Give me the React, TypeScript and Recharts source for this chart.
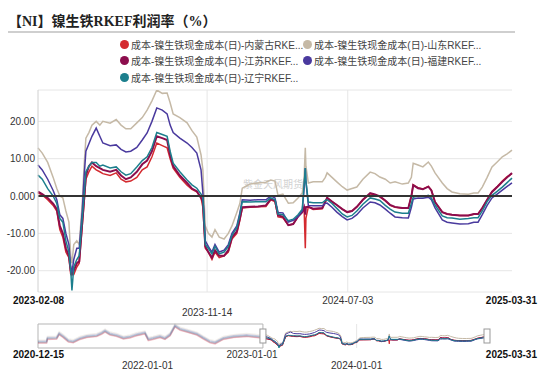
import { CartesianGrid, Line, LineChart, ReferenceArea, ReferenceLine, XAxis, YAxis } from "recharts";

// main window, 2023-02-08 .. 2025-03-31
const dates = [
  "2023-02-08", "2023-02-15", "2023-02-24", "2023-03-05", "2023-03-11", "2023-03-16", "2023-03-21", "2023-03-26", "2023-03-31", "2023-04-03",
  "2023-04-05", "2023-04-08", "2023-04-13", "2023-04-17", "2023-04-22", "2023-04-25", "2023-04-28", "2023-05-03", "2023-05-08", "2023-05-15",
  "2023-05-21", "2023-05-26", "2023-06-07", "2023-06-17", "2023-06-25", "2023-07-03", "2023-07-11", "2023-07-21", "2023-07-30", "2023-08-07",
  "2023-08-15", "2023-08-23", "2023-09-01", "2023-09-09", "2023-09-14", "2023-09-19", "2023-09-30", "2023-10-12", "2023-10-20", "2023-10-28",
  "2023-11-04", "2023-11-07", "2023-11-11", "2023-11-16", "2023-11-22", "2023-11-27", "2023-12-04", "2023-12-12", "2023-12-19", "2023-12-25",
  "2024-01-02", "2024-01-07", "2024-01-11", "2024-01-24", "2024-02-06", "2024-02-19", "2024-02-27", "2024-03-05", "2024-03-10", "2024-03-18",
  "2024-03-27", "2024-04-04", "2024-04-12", "2024-04-19", "2024-04-22", "2024-04-24", "2024-04-25", "2024-04-29", "2024-05-07", "2024-05-22",
  "2024-05-27", "2024-05-30", "2024-06-07", "2024-06-15", "2024-06-24", "2024-07-02", "2024-07-10", "2024-07-18", "2024-07-28", "2024-08-09",
  "2024-08-17", "2024-08-25", "2024-09-03", "2024-09-11", "2024-09-19", "2024-10-01", "2024-10-11", "2024-10-16", "2024-10-19", "2024-10-27",
  "2024-11-04", "2024-11-13", "2024-11-18", "2024-11-24", "2024-12-06", "2024-12-14", "2024-12-22", "2025-01-04", "2025-01-18", "2025-01-27",
  "2025-02-03", "2025-02-10", "2025-02-18", "2025-02-26", "2025-03-07", "2025-03-15", "2025-03-23", "2025-03-31",
];

const neimenggu = [
  0.8, 0.3, -1, -2.5, -4, -9, -11, -15, -16.5, -21,
  -21, -21, -19, -18, -8, -2, 4.5, 6.5, 8, 7,
  6.5, 6, 5.5, 6.2, 4.5, 3.8, 4, 5, 7, 7.8,
  10.5, 14.2, 13.5, 12.9, 10, 7.5, 5, 2.9, 1.8, 1.1,
  -0.5, -3, -14, -15, -17, -15, -16.5, -16, -15, -11.5,
  -10, -6.5, -3.2, -3, -2.9, -2.8, -1, -1.5, -5.6, -5.8,
  -7.8, -7.5, -5.5, -4.3, -3, -14, -6, -2.9, -3.6, -3.4,
  -1.6, -0.5, -1.5, -2.4, -3.5, -4.3, -4, -2.9, -1, 0.6,
  0.3, -0.2, -1.3, -2.5, -3, -3.3, -3.3, 0, 3, 2.2,
  1.9, 2.6, 1.6, -1.6, -4.3, -4.8, -5, -5.2, -5.2, -4.9,
  -4.8, -3.2, -1, 1.2, 2.6, 4, 5.2, 6,
];

const shandong = [
  12.9, 11.5, 9, 5, 2, 0, -0.5, -4, -7, -16,
  -18, -13, -12, -13, -2, 8, 15.5, 17, 19, 20,
  19, 20, 19.5, 20.5, 19, 18, 18, 19.6, 21, 23,
  25.5, 28.4, 27.5, 27.6, 25, 22, 21, 19.6, 17.5, 15.8,
  11, 7, -8, -10, -11, -9, -11, -11.5, -10, -8,
  -4.4, -2, 2.1, 3.2, 3.5, 3.7, 4.3, 4, 0.2, 0.5,
  -1.9, -1.8, -0.5, 0.8, 5, 12.9, 8, 3.5, 3.8, 3.8,
  5, 6.2, 5, 3.8, 2.5, 1.6, 2, 2.4, 4.5, 6.4,
  6, 5.1, 4.5, 3.5, 3.8, 3.2, 3.5, 5, 8.8, 8.3,
  7.8, 9.1, 8, 6.2, 3.5, 2, 1.1, 0.6, 0.5, 0.8,
  0.8, 2.4, 5, 7.8, 9.2, 10.5, 11.3, 12.3,
];

const jiangsu = [
  1.2, 0.5, -0.5, -2, -3.5, -8, -10, -14, -16, -20,
  -21, -20, -18, -17.5, -7, -1, 5.5, 8, 9, 8,
  7.5, 7, 6.5, 7, 5.5, 4.5, 5, 6.5, 8.5, 9.5,
  12, 16, 15.5, 15, 11, 8, 5.5, 3.5, 2, 1.3,
  -0.5, -1.5, -13.5, -15, -16.5, -14.5, -16, -16, -14.5, -11,
  -9.5, -6, -3, -2.9, -2.8, -2.5, -0.8, -1.2, -5.2, -5.5,
  -7.8, -7.5, -5.5, -4.3, -3, -5, -3, -2.9, -3.4, -3.2,
  -1.5, -0.5, -1.5, -2.4, -3.5, -4.3, -4, -2.9, -1, 0.8,
  0.4, -0.1, -1.2, -2.4, -2.9, -3.2, -3.2, 0, 2.9, 2.1,
  1.8, 2.5, 1.5, -1.6, -4.3, -4.8, -5, -5.2, -5.2, -4.8,
  -4.8, -3.2, -1, 1.1, 2.5, 3.8, 5, 6.2,
];

const fujian = [
  8.3, 7, 4.5, 1.5, -1, -5, -6, -10, -13, -19,
  -20.5, -17, -14, -14, -4, 5, 12, 14, 16, 18.2,
  16, 14.2, 13.5, 13.7, 12.5, 11.8, 12, 13, 15, 16.9,
  20, 23.6, 23, 22, 19, 17, 15.5, 14.2, 13, 11.5,
  7, 0.8, -12, -13.5, -15, -13, -15, -14.5, -13, -10,
  -8, -4.5, -1, -1.1, -1, -1, 0, -0.5, -4.4, -4.5,
  -7, -6.5, -5.5, -4, 2, 7.5, 4, -2.5, -2.6, -2.6,
  -2, -1.9, -3, -4.3, -5.5, -6.4, -6, -5, -3.2, -1.6,
  -1.8, -2.4, -3.5, -4.6, -5.6, -5.8, -5.9, -3, -0.8, -0.5,
  -0.6, -0.3, -1, -3.2, -6.4, -7, -7.2, -7.5, -7.4, -7,
  -7, -5, -2.5, -0.5, 0.6, 1.6, 2.6, 3.5,
];

const liaoning = [
  5.6, 4.5, 2, 0, -2, -6, -7, -12, -15, -20,
  -25.3, -19, -17, -16, -6, 0, 6.5, 8, 9, 9,
  8, 8.3, 7.5, 7.8, 6.5, 5.6, 6, 7.8, 9.5, 10.5,
  13, 17, 16.5, 16, 12, 8.8, 6.5, 4.3, 3, 2.1,
  0.5, -0.3, -13, -14, -15.5, -13.5, -15.5, -15, -13.5, -10.5,
  -8.5, -5, -1.5, -1.6, -1.5, -1.5, -0.5, -1, -4.8, -5,
  -6.6, -6.2, -5, -3.5, 3, 7.5, 4, -1.6, -1.8, -1.8,
  -1.2, -1, -2, -3.3, -4.8, -5.6, -5.2, -4, -2.2, -0.5,
  -0.8, -1.2, -2.5, -3.5, -4.3, -4.6, -4.6, -2, -0.3, 0,
  -0.2, 0.2, -0.5, -2.4, -5.3, -5.8, -5.9, -6.2, -6, -5.8,
  -5.8, -4, -1.5, 0.2, 1.3, 2.4, 3.6, 4.8,
];

// history only shown (faded) in the navigator
const histDates = [
  "2020-12-15", "2021-01-14", "2021-01-17", "2021-02-18", "2021-02-27", "2021-03-13", "2021-03-31", "2021-04-17", "2021-05-11", "2021-06-03",
  "2021-07-08", "2021-07-25", "2021-08-06", "2021-08-23", "2021-09-16", "2021-10-09", "2021-11-01", "2021-11-24", "2021-12-23", "2022-01-04",
  "2022-01-21", "2022-02-14", "2022-03-03", "2022-03-21", "2022-04-07", "2022-04-25", "2022-05-18", "2022-06-22", "2022-07-15", "2022-08-07",
  "2022-08-25", "2022-09-23", "2022-10-28", "2022-12-13", "2023-01-29",
];
const histNeimenggu = [-12, -12, -2, -1, 11, 3, -9, -11, -2, 3, 6, 12, 18, 10, 6, -1, 2, 8, 13, -5, -2, 3, -2, 8, 32, 23, 18, 10, -1, -11, -14, -2, 3, 6, 2];
const histShandong = [-4, -4, 6, 7, 19, 11, -1, -3, 6, 11, 14, 20, 26, 18, 14, 7, 10, 16, 21, 3, 6, 11, 6, 16, 40, 31, 26, 18, 7, -3, -6, 6, 11, 14, 10];
const histJiangsu = [-11, -11, -1, 0, 12, 4, -8, -10, -1, 4, 7, 13, 19, 11, 7, 0, 3, 9, 14, -4, -1, 4, -1, 9, 33, 24, 19, 11, 0, -10, -13, -1, 4, 7, 3];
const histFujian = [-7, -7, 3, 4, 16, 8, -4, -6, 3, 8, 11, 17, 23, 15, 11, 4, 7, 13, 18, 0, 3, 8, 3, 13, 37, 28, 23, 15, 4, -6, -9, 3, 8, 11, 7];
const histLiaoning = [-9, -9, 1, 2, 14, 6, -6, -8, 1, 6, 9, 15, 21, 13, 9, 2, 5, 11, 16, -2, 1, 6, 1, 11, 35, 26, 21, 13, 2, -8, -11, 1, 6, 9, 5];

const mainTickDates = ["2023-02-08", "2023-11-14", "2024-07-03", "2025-03-31"];
const navTickDates = ["2020-12-15", "2022-01-01", "2023-01-01", "2024-01-01", "2025-03-31"];
const yTicks = [-20, -10, 0, 10, 20];

const SERIES = [
  { key: "nmg", name: "成本-镍生铁现金成本(日)-内蒙古RKE...", color: "#d42a2f", width: 1.5, values: neimenggu, hist: histNeimenggu },
  { key: "sd", name: "成本-镍生铁现金成本(日)-山东RKEF...", color: "#c5b9a6", width: 1.5, values: shandong, hist: histShandong },
  { key: "js", name: "成本-镍生铁现金成本(日)-江苏RKEF...", color: "#8c0d4d", width: 2, values: jiangsu, hist: histJiangsu },
  { key: "fj", name: "成本-镍生铁现金成本(日)-福建RKEF...", color: "#4a3a9e", width: 1.5, values: fujian, hist: histFujian },
  { key: "ln", name: "成本-镍生铁现金成本(日)-辽宁RKEF...", color: "#1c7f8d", width: 1.5, values: liaoning, hist: histLiaoning },
];

const t = (d: string) => Date.parse(d);
const mainTicks = mainTickDates.map(t);
const navTicks = navTickDates.map(t);
const tStart = t(dates[0]);
const tEnd = t(dates[dates.length - 1]);

const mainRows = dates.map((d, i) => {
  const row: Record<string, number> = { t: t(d) };
  SERIES.forEach((s) => (row[s.key] = s.values[i]));
  return row;
});

const navRows = [
  ...histDates.map((d, i) => {
    const row: Record<string, number> = { t: t(d) };
    SERIES.forEach((s) => (row["h_" + s.key] = s.hist[i]));
    return row;
  }),
  ...mainRows.map((r, i) => {
    const row: Record<string, number> = { ...r };
    // join the faded history to the window start
    if (i === 0) SERIES.forEach((s) => (row["h_" + s.key] = r[s.key]));
    return row;
  }),
];

const FONT = '"Liberation Sans", Arial, "Noto Sans CJK SC", sans-serif';

function MainTick(props: any) {
  const { x, y, payload } = props;
  const i = mainTicks.indexOf(payload.value);
  const last = mainTicks.length - 1;
  const edge = i === 0 || i === last;
  return (
    <text
      x={x + (i === 0 ? -25 : i === last ? 25 : 0)}
      y={y + (i === 1 ? 22 : 10)}
      textAnchor={i === 0 ? "start" : i === last ? "end" : "middle"}
      fontSize={10}
      fontWeight={edge ? 700 : 400}
      fill={edge ? "#111" : "#333"}
    >
      {mainTickDates[i]}
    </text>
  );
}

function NavTick(props: any) {
  const { x, y, payload } = props;
  const i = navTicks.indexOf(payload.value);
  const last = navTicks.length - 1;
  const edge = i === 0 || i === last;
  return (
    <text
      x={x + (i === 0 ? -25 : i === last ? 50 : 0)}
      y={y + (i % 2 === 1 ? 19 : 8)}
      textAnchor={i === 0 ? "start" : i === last ? "end" : "middle"}
      fontSize={10}
      fontWeight={edge ? 700 : 400}
      fill={edge ? "#111" : "#333"}
    >
      {navTickDates[i]}
    </text>
  );
}

const handle = (p: any) => (
  <rect x={p.x1 - 3} y={(p.y1 + p.y2) / 2 - 7} width={6} height={14} fill="#fff" stroke="#999" strokeWidth={1} />
);

export default function App() {
  return (
    <div style={{ position: "absolute", left: 0, top: 0, width: 550, height: 373, background: "#fff", fontFamily: FONT, overflow: "hidden" }}>
      <div style={{ position: "absolute", left: 8, top: 10, fontSize: 14, fontWeight: 700, color: "#222", fontFamily: '"Liberation Serif", "Noto Sans CJK SC", serif', whiteSpace: "nowrap" }}>
        【NI】镍生铁RKEF利润率（%）
      </div>
      <div style={{ position: "absolute", left: 8, top: 31, width: 507, height: 2, background: "#cfcfcf" }} />

      {SERIES.map((s, i) => (
        <div
          key={s.key}
          style={{ position: "absolute", left: 120 + (i % 2) * 183, top: 37 + Math.floor(i / 2) * 16.5, height: 14, display: "flex", alignItems: "center", fontSize: 10, color: "#444", whiteSpace: "nowrap" }}
        >
          <span style={{ width: 9, height: 9, borderRadius: 5, background: s.color, marginRight: 2 }} />
          {s.name}
        </div>
      ))}

      <div style={{ position: "absolute", left: 243, top: 176, fontSize: 10, color: "#d2d2d2", whiteSpace: "nowrap" }}>紫金天风期货</div>

      <div style={{ position: "absolute", left: 0, top: 0 }}>
        <LineChart width={550} height={320} data={mainRows} margin={{ top: 90, right: 38, bottom: 0, left: 0 }}>
          <CartesianGrid stroke="#e6e6e6" verticalValues={[mainTicks[1], mainTicks[2]]} />
          <XAxis
            type="number"
            dataKey="t"
            domain={[tStart, tEnd]}
            ticks={mainTicks}
            interval={0}
            tick={<MainTick />}
            axisLine={false}
            tickLine={false}
            tickSize={0}
            height={28}
          />
          <YAxis
            type="number"
            domain={[-25.7, 28.4]}
            ticks={yTicks}
            allowDataOverflow
            interval={0}
            width={38}
            axisLine={{ stroke: "#d0d0d0" }}
            tickLine={false}
            tickSize={0}
            tickMargin={3}
            tick={{ fontSize: 10, fill: "#333" }}
            tickFormatter={(v: number) => (v === 0 ? "0.000" : v.toFixed(2))}
          />
          {SERIES.map((s) => (
            <Line key={s.key} type="linear" dataKey={s.key} name={s.name} stroke={s.color} strokeWidth={s.width} dot={false} isAnimationActive={false} />
          ))}
          <ReferenceLine y={0} stroke="#333" strokeWidth={2} />
        </LineChart>
      </div>

      <div style={{ position: "absolute", left: 0, top: 318 }}>
        <LineChart width={550} height={55} data={navRows} margin={{ top: 6, right: 63, bottom: 0, left: 38 }}>
          <CartesianGrid stroke="#e6e6e6" horizontal={false} verticalValues={[navTicks[3]]} />
          <XAxis
            type="number"
            dataKey="t"
            domain={[navTicks[0], tEnd]}
            ticks={navTicks}
            interval={0}
            tick={<NavTick />}
            axisLine={false}
            tickLine={false}
            tickSize={0}
            height={25}
          />
          <YAxis hide domain={["dataMin", "dataMax"]} />
          {SERIES.map((s) => (
            <Line key={"h_" + s.key} type="linear" dataKey={"h_" + s.key} stroke={s.color} strokeOpacity={0.22} strokeWidth={1.5} dot={false} isAnimationActive={false} />
          ))}
          {SERIES.map((s) => (
            <Line key={s.key} type="linear" dataKey={s.key} stroke={s.color} strokeWidth={1} dot={false} isAnimationActive={false} />
          ))}
          <ReferenceArea x1={navTicks[0]} x2={tStart} stroke="#b5b5b5" strokeWidth={1} fill="#fff" fillOpacity={0} />
          <ReferenceLine x={tStart} shape={handle} />
          <ReferenceLine x={tEnd} shape={handle} />
        </LineChart>
      </div>
    </div>
  );
}
